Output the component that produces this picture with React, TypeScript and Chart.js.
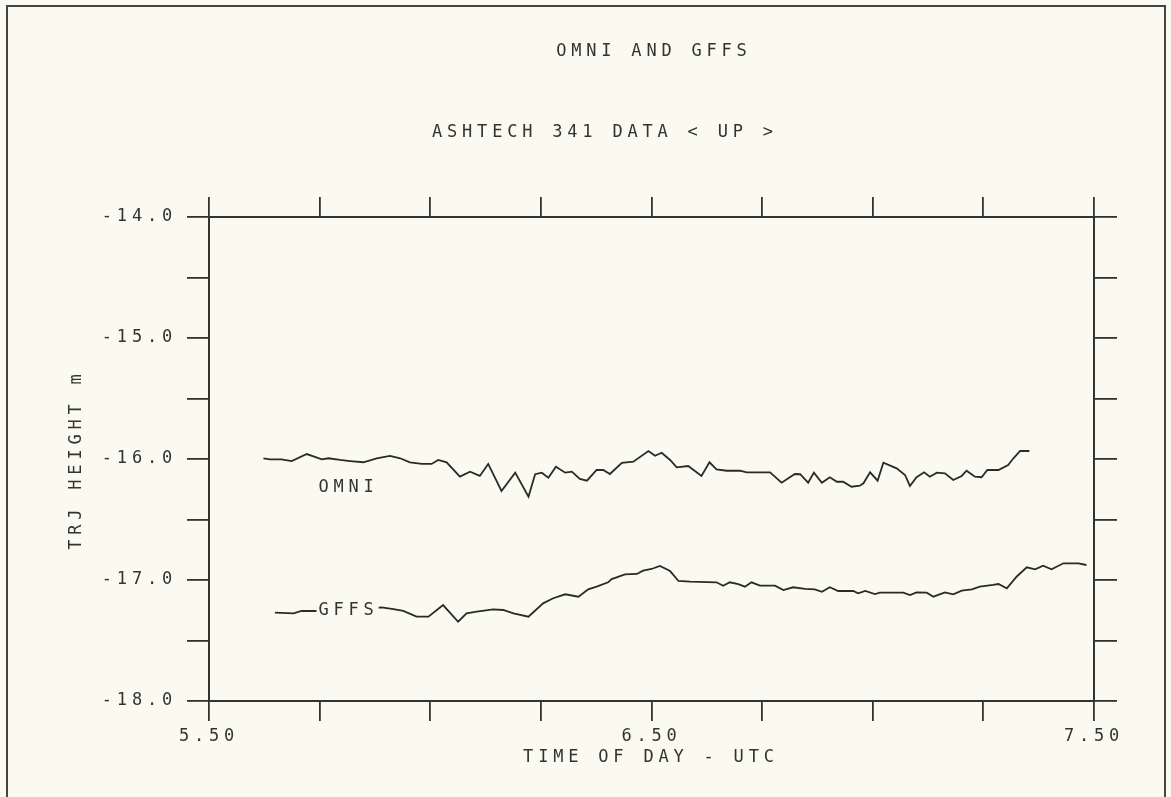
import React, { useEffect, useRef } from 'react';
import { Chart, registerables } from 'chart.js';

Chart.register(...registerables);

// ---- data (hours UTC, metres) ----
const omniTime = [
  5.623, 5.638, 5.664, 5.687, 5.721, 5.755, 5.770, 5.796, 5.819, 5.849,
  5.879, 5.909, 5.932, 5.954, 5.981, 6.003, 6.018, 6.037, 6.067, 6.090,
  6.112, 6.131, 6.161, 6.192, 6.222, 6.237, 6.252, 6.267, 6.284, 6.305,
  6.320, 6.338, 6.354, 6.376, 6.391, 6.406, 6.433, 6.459, 6.493, 6.508,
  6.523, 6.542, 6.557, 6.583, 6.613, 6.631, 6.647, 6.670, 6.700, 6.715,
  6.768, 6.794, 6.824, 6.836, 6.854, 6.867, 6.885, 6.903, 6.919, 6.933,
  6.952, 6.971, 6.979, 6.994, 7.011, 7.024, 7.054, 7.073, 7.084, 7.099,
  7.116, 7.129, 7.145, 7.163, 7.182, 7.201, 7.212, 7.231, 7.246, 7.259,
  7.284, 7.306, 7.318, 7.333, 7.354,
];
const omniHeight = [
  -15.994, -16.003, -16.003, -16.017, -15.959, -16.003, -15.994, -16.008, -16.017, -16.027,
  -15.994, -15.975, -15.994, -16.027, -16.041, -16.041, -16.008, -16.027, -16.146, -16.105,
  -16.140, -16.041, -16.264, -16.113, -16.312, -16.126, -16.113, -16.155, -16.064, -16.113,
  -16.105, -16.165, -16.179, -16.091, -16.091, -16.124, -16.031, -16.022, -15.934, -15.973,
  -15.948, -16.008, -16.069, -16.058, -16.140, -16.027, -16.085, -16.097, -16.097, -16.110,
  -16.110, -16.196, -16.124, -16.126, -16.196, -16.113, -16.196, -16.151, -16.188, -16.188,
  -16.229, -16.221, -16.201, -16.110, -16.179, -16.031, -16.077, -16.132, -16.223, -16.151,
  -16.110, -16.146, -16.113, -16.118, -16.174, -16.140, -16.097, -16.146, -16.151, -16.091,
  -16.091, -16.050, -15.994, -15.934, -15.934,
];

const gffsTime = [
  5.649, 5.691, 5.709, 5.747, 5.796, 5.841, 5.890, 5.917, 5.939, 5.969,
  5.996, 6.029, 6.063, 6.082, 6.105, 6.142, 6.165, 6.188, 6.222, 6.255,
  6.278, 6.305, 6.335, 6.357, 6.376, 6.402, 6.410, 6.440, 6.467, 6.481,
  6.500, 6.519, 6.542, 6.561, 6.587, 6.647, 6.662, 6.677, 6.696, 6.711,
  6.726, 6.745, 6.779, 6.798, 6.820, 6.847, 6.869, 6.885, 6.903, 6.922,
  6.956, 6.967, 6.983, 7.005, 7.016, 7.069, 7.084, 7.099, 7.122, 7.137,
  7.163, 7.182, 7.201, 7.224, 7.242, 7.272, 7.284, 7.303, 7.325, 7.348,
  7.367, 7.385, 7.404, 7.431, 7.465, 7.483,
];
const gffsHeight = [
  -17.270, -17.275, -17.256, -17.256, -17.250, -17.250, -17.226, -17.240, -17.256, -17.303,
  -17.303, -17.207, -17.345, -17.275, -17.262, -17.242, -17.248, -17.275, -17.303, -17.193,
  -17.151, -17.118, -17.138, -17.077, -17.055, -17.019, -16.992, -16.953, -16.950, -16.923,
  -16.909, -16.884, -16.926, -17.008, -17.014, -17.019, -17.047, -17.019, -17.035, -17.055,
  -17.019, -17.047, -17.047, -17.083, -17.060, -17.074, -17.077, -17.097, -17.060, -17.091,
  -17.091, -17.110, -17.091, -17.116, -17.105, -17.105, -17.124, -17.102, -17.105, -17.138,
  -17.102, -17.118, -17.088, -17.077, -17.055, -17.041, -17.033, -17.069, -16.973, -16.895,
  -16.912, -16.882, -16.912, -16.862, -16.862, -16.876,
];

const xLabeledTicks = [5.5, 6.5, 7.5];
const yLabeledTicks = [-14, -15, -16, -17, -18];

const titleText = 'OMNI AND GFFS';
const subtitleText = 'ASHTECH 341 DATA < UP >';
const xTitleText = 'TIME OF DAY - UTC';
const yTitleText = 'TRJ HEIGHT m';
const seriesNames = ['OMNI', 'GFFS'];
const seriesLabelAt = [
  { x: 5.81, y: -16.24 },
  { x: 5.81, y: -17.255 },
];

const BG = '#fafaf0';
const INK = '#333333';
const FONT_FAMILY = "'DejaVu Sans Mono', 'Liberation Mono', monospace";
const FONT_SIZE = 17;
const LS = 4.8;

const W = 1171;
const H = 797;

const plotterPlugin = {
  id: 'plotter',
  beforeDraw(chart: any) {
    const ctx = chart.ctx;
    ctx.save();
    ctx.fillStyle = BG;
    ctx.fillRect(0, 0, chart.width, chart.height);
    ctx.restore();
    ctx.letterSpacing = LS + 'px';
  },
  afterDraw(chart: any) {
    const ctx = chart.ctx;
    const a = chart.chartArea;
    const xs = chart.scales.x;
    const ys = chart.scales.y;
    ctx.save();
    ctx.letterSpacing = LS + 'px';
    ctx.font = `${FONT_SIZE}px ${FONT_FAMILY}`;
    ctx.fillStyle = INK;
    ctx.textAlign = 'center';
    ctx.textBaseline = 'middle';
    const cx = (a.left + a.right) / 2 + LS / 2;
    ctx.fillText(titleText, cx, a.top - 165);
    ctx.fillText(subtitleText, cx - 49, a.top - 84);
    ctx.fillText(xTitleText, cx - 3, a.bottom + 57);

    // series labels
    seriesNames.forEach((name, i) => {
      const px = xs.getPixelForValue(seriesLabelAt[i].x) + LS / 2;
      const py = ys.getPixelForValue(seriesLabelAt[i].y);
      const w = ctx.measureText(name).width;
      ctx.fillStyle = BG;
      ctx.fillRect(px - w / 2 - 2, py - 8, w + 2, 16);
      ctx.fillStyle = INK;
      ctx.fillText(name, px, py);
    });

    // y title
    ctx.save();
    ctx.translate(a.left - 132, (a.top + a.bottom) / 2 + 3);
    ctx.rotate(-Math.PI / 2);
    ctx.fillText(yTitleText, LS / 2, 0);
    ctx.restore();

    // page frame
    ctx.strokeStyle = '#444';
    ctx.lineWidth = 2;
    ctx.beginPath();
    ctx.moveTo(7, H + 5);
    ctx.lineTo(7, 6);
    ctx.lineTo(1165, 6);
    ctx.lineTo(1165, H + 5);
    ctx.stroke();
    ctx.restore();
  },
};

function makePoints(xsArr: number[], ysArr: number[]) {
  return xsArr.map((x, i) => ({ x, y: ysArr[i] }));
}

const near = (v: number, list: number[]) => list.some((t) => Math.abs(t - v) < 1e-6);

export default function App() {
  const ref = useRef<HTMLCanvasElement | null>(null);

  useEffect(() => {
    if (!ref.current) return;
    const tickFont = { family: FONT_FAMILY, size: FONT_SIZE };
    const gridBase = {
      drawOnChartArea: false,
      drawTicks: true,
      color: INK,
      lineWidth: 1.8,
    };
    const borderBase = { display: true, color: INK, width: 2 };
    const chart = new Chart(ref.current, {
      type: 'line',
      data: {
        datasets: [
          {
            label: seriesNames[0],
            data: makePoints(omniTime, omniHeight),
            borderColor: '#2a2a2a',
            borderWidth: 1.8,
            pointRadius: 0,
            tension: 0,
            xAxisID: 'x',
            yAxisID: 'y',
          },
          {
            label: seriesNames[1],
            data: makePoints(gffsTime, gffsHeight),
            borderColor: '#2a2a2a',
            borderWidth: 1.8,
            pointRadius: 0,
            tension: 0,
            xAxisID: 'x',
            yAxisID: 'y',
          },
        ],
      },
      options: {
        animation: false,
        responsive: false,
        devicePixelRatio: 1,
        layout: { padding: 0 },
        plugins: {
          legend: { display: false },
          title: { display: false },
          tooltip: { enabled: false },
        },
        scales: {
          x: {
            type: 'linear',
            position: 'bottom',
            min: 5.5,
            max: 7.5,
            grid: { ...gridBase, tickLength: 20 },
            border: borderBase,
            ticks: {
              stepSize: 0.25,
              autoSkip: false,
              maxRotation: 0,
              padding: 5,
              color: INK,
              font: tickFont,
              callback: (v: any) => (near(Number(v), xLabeledTicks) ? Number(v).toFixed(2) : ''),
            },
            afterFit: (s: any) => {
              s.height = H - 701;
            },
          },
          x2: {
            type: 'linear',
            position: 'top',
            min: 5.5,
            max: 7.5,
            grid: { ...gridBase, tickLength: 20 },
            border: borderBase,
            ticks: { stepSize: 0.25, autoSkip: false, display: false },
            afterFit: (s: any) => {
              s.height = 217;
            },
          },
          y: {
            type: 'linear',
            position: 'left',
            min: -18,
            max: -14,
            grid: { ...gridBase, tickLength: 22 },
            border: borderBase,
            ticks: {
              stepSize: 0.5,
              autoSkip: false,
              padding: 10,
              color: INK,
              font: tickFont,
              callback: (v: any) => (near(Number(v), yLabeledTicks) ? Number(v).toFixed(1) : ''),
            },
            afterFit: (s: any) => {
              s.width = 209;
            },
          },
          y2: {
            type: 'linear',
            position: 'right',
            min: -18,
            max: -14,
            grid: { ...gridBase, tickLength: 23 },
            border: borderBase,
            ticks: { stepSize: 0.5, autoSkip: false, display: false },
            afterFit: (s: any) => {
              s.width = W - 1094;
            },
          },
        },
      },
      plugins: [plotterPlugin],
    } as any);
    return () => chart.destroy();
  }, []);

  return (
    <div style={{ position: 'fixed', left: 0, top: 0, width: W, height: H, background: BG }}>
      <canvas ref={ref} width={W} height={H} style={{ display: 'block' }} />
    </div>
  );
}
